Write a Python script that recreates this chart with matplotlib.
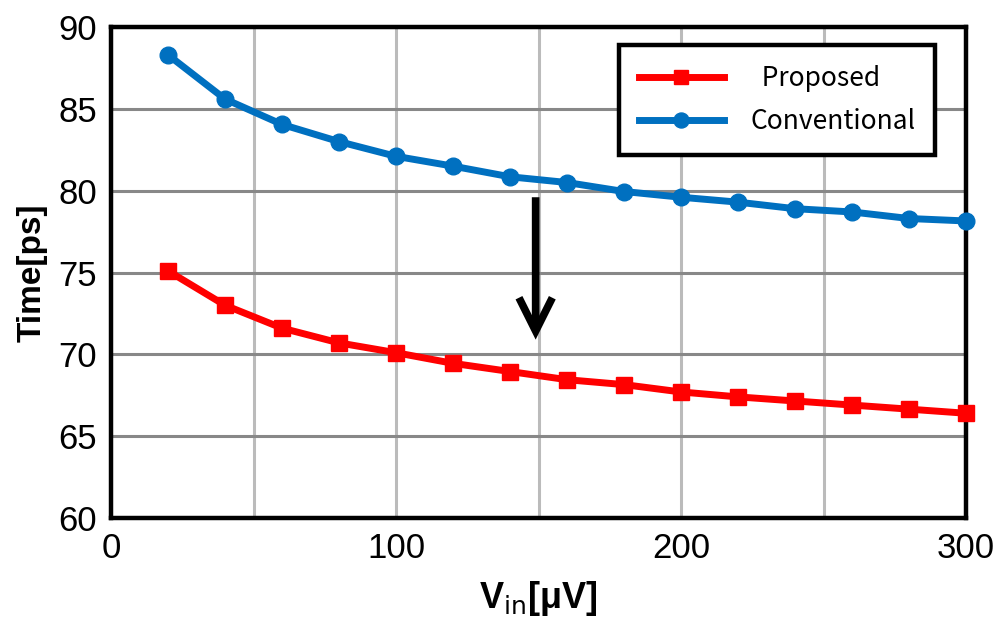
import matplotlib
matplotlib.use("Agg")
import matplotlib.pyplot as plt
from matplotlib import font_manager

x_vals = [20, 40, 60, 80, 100, 120, 140, 160, 180, 200, 220, 240, 260, 280, 300]
proposed = [75.1, 73.0, 71.6, 70.7, 70.1, 69.45, 68.95, 68.45, 68.15, 67.7, 67.4, 67.15, 66.9, 66.65, 66.4]
conventional = [88.3, 85.6, 84.05, 83.0, 82.1, 81.5, 80.85, 80.5, 79.95, 79.6, 79.3, 78.9, 78.7, 78.3, 78.15]
x_ticks = [0, 100, 200, 300]
y_ticks = [60, 65, 70, 75, 80, 85, 90]
arrow_x = 149
arrow_from = 79.6
arrow_to = 70.9

names = {f.name for f in font_manager.fontManager.ttflist}
narrow = 'Liberation Sans Narrow' if 'Liberation Sans Narrow' in names else 'Liberation Sans'

fig = plt.figure(figsize=(10, 6.29), dpi=100)
ax = fig.add_axes([0.111, 0.1765, 0.855, 0.7805])

ax.set_xlim(0, 300)
ax.set_ylim(60, 90)
ax.set_xticks(x_ticks)
ax.set_yticks(y_ticks)
ax.set_xticks([50, 150, 250], minor=True)
ax.grid(True, which='major', axis='y', color='#888888', linewidth=2.2)
ax.grid(True, which='both', axis='x', color='#bbbbbb', linewidth=2.2)
ax.tick_params(which='both', length=0, pad=10)
ax.set_axisbelow(True)
for s in ax.spines.values():
    s.set_linewidth(3.2)
    s.set_color('black')

for lab in ax.get_xticklabels() + ax.get_yticklabels():
    lab.set_fontfamily([narrow, 'DejaVu Sans'])
    lab.set_fontsize(25)

ax.plot(x_vals, proposed, color='#ff0000', linewidth=5, marker='s', markersize=11,
        label='Proposed', clip_on=False, zorder=3)
ax.plot(x_vals, conventional, color='#0070c0', linewidth=5, marker='o', markersize=12,
        label='Conventional', clip_on=False, zorder=3)

ax.annotate('', xy=(arrow_x, arrow_to), xytext=(arrow_x, arrow_from),
            arrowprops=dict(arrowstyle='->,head_length=1.2,head_width=0.6', color='black',
                            lw=5.5, mutation_scale=20, shrinkA=0, shrinkB=0,
                            joinstyle='miter', capstyle='butt'))

ax.set_ylabel('Time[ps]', fontsize=24, fontweight='bold', family=[narrow, 'DejaVu Sans'], labelpad=8)
ax.set_xlabel(r'V$_{\mathrm{in}}$[μV]', fontsize=26, fontweight='bold', family=[narrow, 'DejaVu Sans'], labelpad=10)

leg = ax.legend(loc='upper right', bbox_to_anchor=(0.9637, 0.963), borderaxespad=0,
                prop={'family': ['Noto Sans CJK JP', 'DejaVu Sans'], 'size': 19},
                frameon=True, fancybox=False, edgecolor='black', borderpad=0.75, handlelength=3.2,
                labelspacing=0.6, markerscale=0.9, handletextpad=1.0)
leg.get_frame().set_linewidth(3.2)
leg.get_frame().set_alpha(1)
leg.get_texts()[0].set_text('  Proposed')

fig.savefig('out.png', dpi=100)
